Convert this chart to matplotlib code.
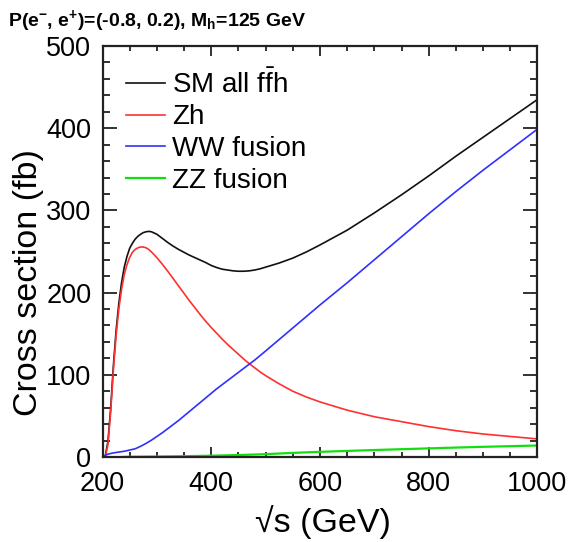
import matplotlib.pyplot as plt
from matplotlib.ticker import MultipleLocator

plt.rcParams['font.family'] = ['Liberation Sans', 'DejaVu Sans']
plt.rcParams['mathtext.fontset'] = 'custom'
plt.rcParams['mathtext.rm'] = 'Liberation Sans'
plt.rcParams['mathtext.it'] = 'Liberation Sans:italic'
plt.rcParams['mathtext.bf'] = 'Liberation Sans:bold'

# values (sqrt(s) in GeV, cross section in fb)
x_sm = [205, 210, 215, 220, 225, 230, 235, 240, 245, 250, 255, 260, 265, 270, 275,
        280, 285, 290, 300, 310, 320, 330, 340, 350, 360, 370, 380, 390, 400, 410,
        420, 430, 440, 450, 460, 470, 480, 490, 500, 525, 550, 575, 600, 650, 700,
        750, 800, 850, 900, 950, 1000]
sm_all = [1, 19, 59, 111, 154, 187, 212, 231, 244, 254, 260, 265, 268.5, 271, 273,
          274, 274.5, 274, 271, 266, 261, 256.5, 252.5, 249, 245.5, 242.5, 239.5, 236.5, 233, 230.5,
          228.5, 227.5, 226.5, 226, 226, 226.5, 227.5, 229, 231, 236, 242, 249.5, 258, 276, 297,
          319, 342, 366, 389, 412, 435]

x_zh = [205, 210, 215, 220, 225, 230, 235, 240, 245, 250, 255, 260, 265, 270, 275,
        280, 285, 290, 300, 310, 320, 330, 340, 350, 360, 370, 380, 390, 400, 410,
        420, 430, 440, 450, 460, 470, 480, 490, 500, 525, 550, 575, 600, 650, 700,
        750, 800, 850, 900, 950, 1000]
zh = [0, 15, 55, 106, 148, 180, 204, 222, 234, 243, 249, 252.5, 254.5, 255.5, 255.5,
      254.5, 252.5, 249.5, 242.5, 234.5, 226, 217, 208, 199, 190, 181.5, 173, 165, 157.5, 150.5,
      143.5, 137, 131, 125, 119, 113.5, 108.5, 103.5, 99, 89, 80, 73, 67, 57, 49,
      43, 37, 32, 28, 25, 22]

x_ww = [200, 205, 210, 220, 230, 240, 250, 260, 270, 280, 290, 300, 310, 320, 330,
        340, 350, 360, 370, 380, 390, 400, 410, 420, 430, 440, 450, 460, 470, 480,
        490, 500, 525, 550, 575, 600, 650, 700, 750, 800, 850, 900, 950, 1000]
ww = [0, 2, 3.5, 5, 6, 7, 8.5, 10, 13, 16.5, 20.5, 25, 29.5, 34.5, 39.5,
      44.5, 50, 55.5, 61, 66.5, 72, 77.5, 83, 88, 93, 98, 103, 108, 113, 118,
      123.5, 129, 143, 157, 171, 185, 212, 240, 268, 296, 323, 349, 374, 399]

x_zz = [235, 250, 300, 350, 400, 450, 500, 550, 600, 650, 700, 750, 800, 850, 900, 950, 1000]
zz = [0, 0.3, 0.6, 1, 1.6, 2.4, 3.5, 5, 6.3, 7.4, 8.5, 9.5, 10.5, 11.5, 12.4, 13.2, 14]

fig = plt.figure(figsize=(5.74, 5.42), dpi=100)
ax = fig.add_axes([0.1786, 0.1568, 0.7578, 0.7583])

ax.plot(x_sm, sm_all, color='#111111', lw=1.2, label=r'SM all f$\bar{\mathrm{f}}$h')
ax.plot(x_zh, zh, color='#ff3030', lw=1.2, label='Zh')
ax.plot(x_ww, ww, color='#3030ff', lw=1.2, label='WW fusion')
ax.plot(x_zz, zz, color='#10e010', lw=1.6, label='ZZ fusion')

ax.set_xlim(200, 1000)
ax.set_ylim(0, 500)
ax.xaxis.set_major_locator(MultipleLocator(200))
ax.xaxis.set_minor_locator(MultipleLocator(50))
ax.yaxis.set_major_locator(MultipleLocator(100))
ax.yaxis.set_minor_locator(MultipleLocator(20))

ax.tick_params(axis='both', which='both', direction='in', top=True, right=True,
               labelsize=19.5, width=1.3, colors='#222222')
ax.tick_params(axis='x', which='major', length=7.5, pad=10)
ax.tick_params(axis='x', which='minor', length=3.8)
ax.tick_params(axis='y', which='major', length=10, pad=8)
ax.tick_params(axis='y', which='minor', length=5)
for lab in ax.get_xticklabels() + ax.get_yticklabels():
    lab.set_color('black')
for s in ax.spines.values():
    s.set_linewidth(1.6)
    s.set_color('#222222')

leg = ax.legend(loc='upper left', bbox_to_anchor=(0.0, 1.0), frameon=False,
                fontsize=20, handlelength=1.4, handletextpad=0.25,
                labelspacing=0.2, borderaxespad=0.45)

fig.text(0.049, 0.478, 'Cross section (fb)', rotation=90, fontsize=24.5,
         ha='center', va='center')
fig.text(0.563, 0.037, '√s (GeV)', fontsize=24.5, ha='center', va='center')
fig.text(0.014, 0.985, r'P(e$^{\mathbf{-}}$, e$^{\mathbf{+}}$)=(-0.8, 0.2), M$_{\mathbf{h}}$=125 GeV',
         fontsize=14, fontweight='bold', ha='left', va='top')

fig.savefig('out.png', dpi=100)
